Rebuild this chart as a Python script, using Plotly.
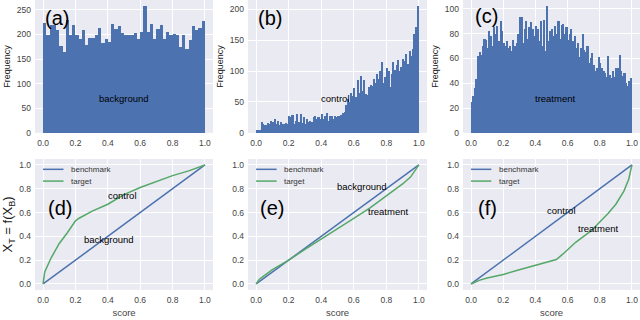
import numpy as np
import plotly.graph_objects as go

# ---- data ----
bg_counts = [223, 198, 220, 220, 210, 177, 165, 229, 198, 220,
             198, 190, 209, 178, 193, 193, 198, 213, 182, 190,
             185, 222, 211, 218, 202, 198, 198, 198, 202, 191,
             205, 257, 205, 222, 191, 211, 220, 190, 205, 198,
             200, 198, 175, 198, 171, 189, 217, 210, 213, 227]

ctrl_counts = [5, 4, 4, 18, 15, 12, 13, 16, 15, 19,
               17, 22, 14, 20, 13, 17, 15, 14, 16, 15,
               27, 25, 29, 15, 20, 30, 18, 31, 16, 25,
               14, 22, 17, 20, 18, 25, 28, 22, 26, 23,
               30, 22, 27, 32, 20, 28, 28, 22, 28, 25,
               28, 27, 29, 32, 33, 45, 55, 50, 64, 60,
               72, 58, 85, 65, 92, 68, 85, 63, 62, 75,
               78, 76, 88, 80, 95, 88, 100, 115, 80, 90,
               105, 100, 75, 95, 115, 102, 110, 118, 100, 106,
               120, 116, 128, 112, 132, 125, 135, 160, 172, 205]

treat_counts = [25, 30, 36, 43, 62, 65, 63, 70, 76, 75,
                68, 82, 78, 70, 85, 80, 86, 74, 90, 82,
                72, 70, 74, 68, 70, 66, 75, 70, 72, 80,
                93, 93, 72, 84, 90, 76, 85, 89, 84, 78,
                86, 84, 74, 90, 70, 91, 66, 102, 74, 82,
                84, 78, 86, 80, 90, 76, 87, 88, 80, 85,
                75, 80, 84, 74, 78, 68, 72, 61, 68, 80,
                67, 65, 70, 56, 60, 64, 55, 50, 52, 61,
                56, 52, 50, 48, 45, 62, 47, 44, 50, 45,
                52, 52, 63, 50, 46, 48, 40, 38, 42, 44]

bench_x = [0.0, 1.0]
bench_y = [0.0, 1.0]

d_x = [0.0, 0.01, 0.05, 0.1, 0.15, 0.2, 0.22, 0.3, 0.4, 0.5, 0.6, 0.7, 0.8, 0.9, 1.0]
d_y = [0.0, 0.1, 0.22, 0.34, 0.43, 0.53, 0.55, 0.61, 0.67, 0.75, 0.81, 0.86, 0.91, 0.95, 1.0]

e_x = [0.0, 0.02, 0.05, 0.1, 0.15, 0.2, 0.3, 0.4, 0.5, 0.6, 0.7, 0.8, 0.9, 0.95, 1.0]
e_y = [0.0, 0.04, 0.07, 0.12, 0.16, 0.2, 0.29, 0.375, 0.46, 0.55, 0.64, 0.74, 0.84, 0.9, 1.0]

f_x = [0.0, 0.05, 0.1, 0.2, 0.3, 0.4, 0.5, 0.53, 0.57, 0.6, 0.65, 0.7, 0.75, 0.8, 0.85, 0.9, 0.95, 0.98, 1.0]
f_y = [0.0, 0.03, 0.05, 0.08, 0.12, 0.155, 0.19, 0.205, 0.25, 0.29, 0.35, 0.40, 0.45, 0.52, 0.59, 0.67, 0.78, 0.88, 1.0]

BG = "#EAEAF2"
BLUE = "#4C72B0"
GREEN = "#55A868"
FONT = "Liberation Sans"


def centers(n):
    edges = np.linspace(0, 1, n + 1)
    return (edges[:-1] + edges[1:]) / 2, 1.0 / n


fig = go.Figure()

hists = [(bg_counts, "x", "y"), (ctrl_counts, "x2", "y2"), (treat_counts, "x3", "y3")]
for counts, xa, ya in hists:
    cx, w = centers(len(counts))
    fig.add_trace(go.Bar(x=cx, y=counts, width=w, xaxis=xa, yaxis=ya,
                         marker=dict(color=BLUE, line=dict(width=0)),
                         showlegend=False))

curves = [(d_x, d_y, "x4", "y4"), (e_x, e_y, "x5", "y5"), (f_x, f_y, "x6", "y6")]
for tx, ty, xa, ya in curves:
    fig.add_trace(go.Scatter(x=bench_x, y=bench_y, mode="lines", name="benchmark",
                             line=dict(color=BLUE, width=1.5), xaxis=xa, yaxis=ya, showlegend=False))
    fig.add_trace(go.Scatter(x=tx, y=ty, mode="lines", name="target",
                             line=dict(color=GREEN, width=1.5), xaxis=xa, yaxis=ya, showlegend=False))

xdoms = [[35 / 640, 213 / 640], [248 / 640, 427 / 640], [463 / 640, 1.0]]
row1 = [1 - 135 / 320, 1.0]
row2 = [1 - 294.5 / 320, 1 - 161.5 / 320]

tick_font = dict(family=FONT, size=8.5, color="#444")
common = dict(showgrid=True, gridcolor="white", gridwidth=1, zeroline=False,
              showline=False, ticks="", tickfont=tick_font)

layout = dict(width=640, height=320, margin=dict(l=0, r=0, t=0, b=0),
              paper_bgcolor="white", plot_bgcolor=BG, bargap=0, showlegend=False,
              font=dict(family=FONT, color="#222"))

yranges = [[0, 270], [0, 215], [0, 107]]
ydticks = [50, 50, 20]
for i in range(6):
    n = "" if i == 0 else str(i + 1)
    col = i % 3
    xa = dict(common, domain=xdoms[col], range=[-0.05, 1.05], dtick=0.2, tickformat=".1f",
              anchor="y" + n, ticklabelstandoff=4)
    if i < 3:
        ya = dict(common, domain=row1, range=yranges[col], dtick=ydticks[col], anchor="x" + n,
                  ticklabelstandoff=3,
                  title=dict(text="Frequency", font=dict(family=FONT, size=9, color="#222"), standoff=4))
    else:
        xa["title"] = dict(text="score", font=dict(family=FONT, size=9.5, color="#444"), standoff=4)
        ya = dict(common, domain=row2, range=[-0.05, 1.05], dtick=0.2, tickformat=".1f",
                  anchor="x" + n, ticklabelstandoff=3)
        if col == 0:
            ya["title"] = dict(text="X<sub>T</sub> = f(X<sub>B</sub>)",
                               font=dict(family=FONT, size=13, color="#222"), standoff=6)
    layout["xaxis" + n] = xa
    layout["yaxis" + n] = ya

fig.update_layout(**layout)

# legend drawn inside each lower panel (axis-domain coordinates)
for n in ["4", "5", "6"]:
    for name, color, yy in [("benchmark", BLUE, 0.921), ("target", GREEN, 0.831)]:
        fig.add_shape(type="line", xref="x" + n + " domain", yref="y" + n + " domain",
                      x0=0.045, x1=0.16, y0=yy, y1=yy, line=dict(color=color, width=1.5))
        fig.add_annotation(xref="x" + n + " domain", yref="y" + n + " domain", x=0.19, y=yy,
                           text=name, showarrow=False, xanchor="left", yanchor="middle",
                           font=dict(family=FONT, size=8, color="#333"))

# panel letters and text labels (data coordinates)
labels = [("x", "y", 0.0, 234, "(a)", 20, "left"),
          ("x", "y", 0.5, 70, "background", 9.5, "center"),
          ("x2", "y2", 0.0, 186, "(b)", 20, "left"),
          ("x2", "y2", 0.49, 55, "control", 9.5, "center"),
          ("x3", "y3", 0.01, 94, "(c)", 20, "left"),
          ("x3", "y3", 0.52, 28, "treatment", 9.5, "center"),
          ("x4", "y4", 0.02, 0.64, "(d)", 20, "left"),
          ("x4", "y4", 0.49, 0.74, "control", 9.5, "center"),
          ("x4", "y4", 0.41, 0.37, "background", 9.5, "center"),
          ("x5", "y5", 0.01, 0.64, "(e)", 20, "left"),
          ("x5", "y5", 0.65, 0.815, "background", 9.5, "center"),
          ("x5", "y5", 0.81, 0.61, "treatment", 9.5, "center"),
          ("x6", "y6", 0.03, 0.64, "(f)", 20, "left"),
          ("x6", "y6", 0.56, 0.62, "control", 9.5, "center"),
          ("x6", "y6", 0.79, 0.47, "treatment", 9.5, "center")]
for xr, yr, x, y, t, s, anc in labels:
    fig.add_annotation(x=x, y=y, xref=xr, yref=yr, text=t, showarrow=False,
                       xanchor=anc, yanchor="middle",
                       font=dict(family=FONT, size=s, color="black"))

# the page has a default 8px body margin; remove it so the figure sits at (0, 0)
fig.write_html("out.html", config={"displayModeBar": False},
               post_script="document.body.style.margin='0px';")
